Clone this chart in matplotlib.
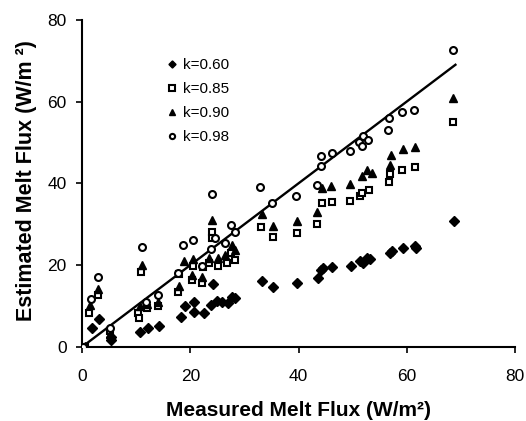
import matplotlib
matplotlib.use("Agg")
import matplotlib.pyplot as plt

plt.rcParams['font.family'] = ['Liberation Sans', 'DejaVu Sans']

# k = 0.60 (filled diamonds)
x_060 = [1.8, 3.1, 5.4, 5.4, 10.8, 12.1, 14.3, 18.2, 19.1, 20.6, 20.6, 22.6, 23.8, 24.2,
         24.9, 25.8, 26.9, 28.3, 27.7, 33.2, 35.2, 39.7, 43.6, 44.2, 44.5, 46.2, 49.7,
         51.4, 52.0, 52.6, 53.2, 56.9, 57.2, 59.3, 61.5, 61.7, 68.7]
y_060 = [4.6, 6.8, 2.4, 1.7, 3.6, 4.6, 5.2, 7.4, 10.1, 8.6, 10.9, 8.2, 10.3, 15.4,
         11.3, 10.9, 10.7, 11.9, 12.3, 16.1, 14.7, 15.6, 16.8, 18.8, 19.4, 19.6, 19.9,
         20.9, 20.5, 21.7, 21.5, 23.0, 23.4, 24.3, 24.7, 24.2, 30.9]

# k = 0.85 (open squares)
x_085 = [0.5, 1.3, 3.0, 5.1, 10.4, 10.6, 10.9, 12.0, 14.1, 17.8, 18.0, 20.3, 20.5, 22.1,
         22.4, 23.5, 24.0, 24.0, 25.2, 26.7, 28.3, 27.5, 33.0, 35.2, 39.7, 43.4, 44.3,
         46.2, 49.5, 51.4, 51.7, 53.1, 56.8, 56.9, 59.1, 61.5, 68.6]
y_085 = [0.0, 8.4, 12.7, 3.8, 8.2, 7.0, 18.4, 9.5, 9.9, 13.5, 17.8, 16.4, 19.8, 15.6,
         19.6, 20.5, 28.0, 26.6, 19.8, 20.5, 21.3, 23.0, 29.3, 26.8, 27.9, 30.0, 35.1,
         35.5, 35.8, 36.8, 37.6, 38.4, 40.4, 42.2, 43.3, 43.9, 55.1]

# k = 0.90 (filled triangles)
x_090 = [0.5, 1.4, 3.0, 5.2, 10.7, 11.0, 12.0, 14.1, 18.0, 18.9, 20.5, 20.3, 22.2, 23.5,
         24.0, 25.2, 26.5, 28.3, 27.8, 33.2, 35.2, 39.7, 43.4, 44.3, 46.0, 49.5, 51.7,
         52.6, 53.5, 56.9, 57.1, 59.3, 61.5, 68.6]
y_090 = [0.3, 10.3, 14.2, 3.2, 9.9, 20.0, 10.5, 11.1, 14.9, 20.9, 21.4, 17.5, 17.0, 21.7,
         31.0, 21.7, 22.5, 23.7, 24.8, 32.5, 29.6, 30.9, 33.1, 38.8, 39.4, 39.9, 41.8,
         43.3, 42.5, 44.5, 46.9, 48.3, 48.8, 60.8]

# k = 0.98 (open circles)
x_098 = [0.2, 1.6, 3.0, 5.1, 11.0, 11.9, 14.1, 17.8, 18.6, 20.5, 22.1, 23.9, 24.0, 24.6,
         26.4, 27.5, 28.3, 32.9, 35.1, 39.5, 43.4, 44.2, 44.2, 46.1, 49.5, 51.1, 51.7,
         52.0, 52.9, 56.6, 56.8, 59.1, 61.4, 68.5]
y_098 = [0.0, 11.7, 17.0, 4.6, 24.4, 11.1, 12.7, 18.0, 24.9, 26.2, 19.8, 23.9, 37.4, 26.6,
         25.4, 29.8, 28.2, 39.0, 35.3, 37.0, 39.6, 44.3, 46.7, 47.4, 47.9, 50.2, 49.1,
         51.6, 50.6, 53.0, 55.9, 57.4, 57.9, 72.5]

# 1:1 line
line_x = [0, 69]
line_y = [0, 69]

fig = plt.figure(figsize=(5.26, 4.21), dpi=100)
ax = fig.add_axes([0.156, 0.176, 0.823, 0.777])

ax.plot(line_x, line_y, color='black', lw=1.7, zorder=1)
ax.plot(x_060, y_060, 'D', color='black', ms=4.8, ls='none', label='k=0.60', zorder=2)
ax.plot(x_085, y_085, 's', mfc='white', mec='black', mew=1.5, ms=5, ls='none',
        label='k=0.85', zorder=3)
ax.plot(x_090, y_090, '^', color='black', ms=5.8, ls='none', label='k=0.90', zorder=4)
ax.plot(x_098, y_098, 'o', mfc='white', mec='black', mew=1.5, ms=5, ls='none',
        label='k=0.98', zorder=5)

ax.set_xlim(0, 80)
ax.set_ylim(0, 80)
ax.set_xticks([0, 20, 40, 60, 80])
ax.set_yticks([0, 20, 40, 60, 80])
ax.spines['top'].set_visible(False)
ax.spines['right'].set_visible(False)
ax.spines['left'].set_linewidth(1.5)
ax.spines['bottom'].set_linewidth(1.5)
ax.tick_params(direction='out', length=4, width=1.2, labelsize=12.5)
ax.tick_params(axis='x', pad=12)
ax.tick_params(axis='y', pad=7)

ax.set_xlabel('Measured Melt Flux (W/m²)', fontsize=15, fontweight='bold')
ax.set_ylabel('Estimated Melt Flux (W/m ²)', fontsize=15.5, fontweight='bold')
ax.xaxis.set_label_coords(0.5, -0.165)
ax.yaxis.set_label_coords(-0.104, 0.51)

ax.legend(loc='upper left', bbox_to_anchor=(0.17, 0.915), frameon=False, fontsize=11,
          handlelength=0.8, handletextpad=0.3, labelspacing=0.65, borderpad=0.2,
          markerscale=0.75)

fig.savefig('out.png', dpi=100)
